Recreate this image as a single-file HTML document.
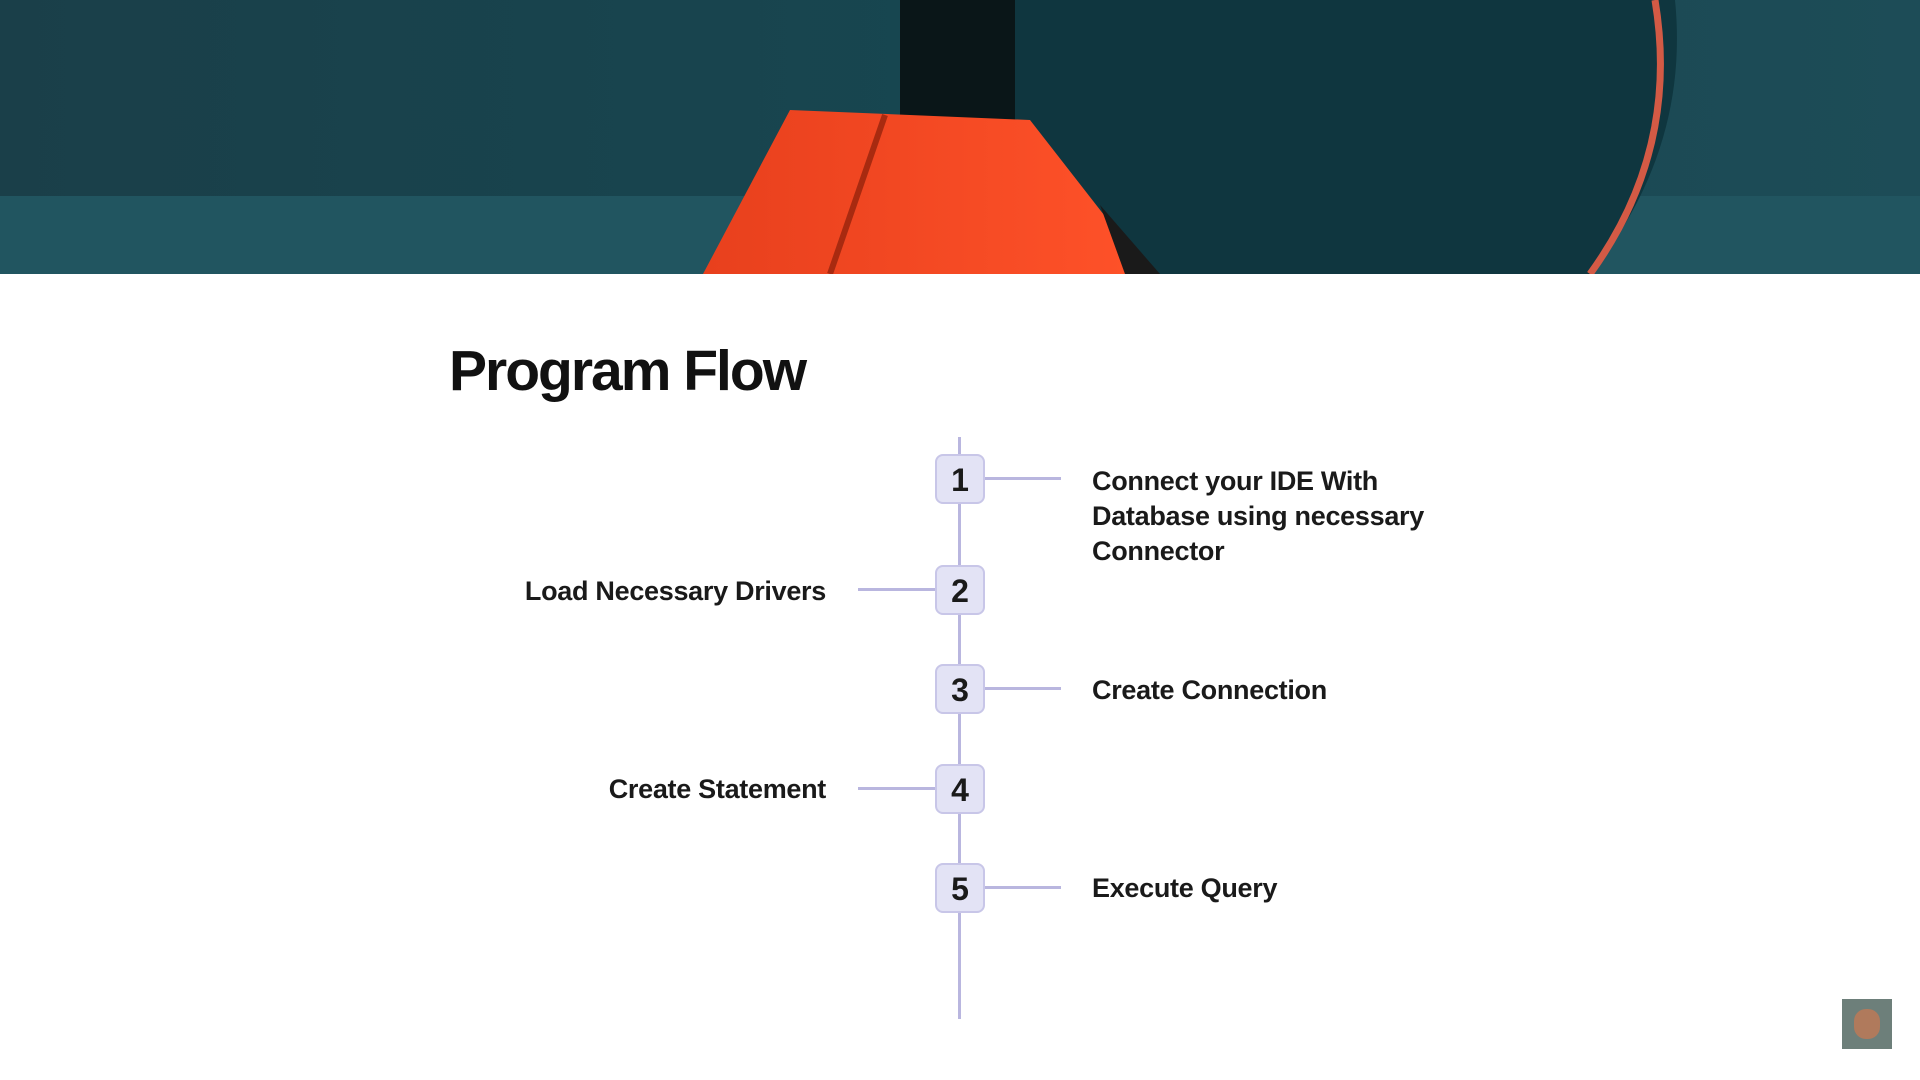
<!DOCTYPE html>
<html><head><style>
body{margin:0;width:1920px;height:1080px;background:#fff;position:relative;overflow:hidden;font-family:"Liberation Sans",sans-serif;}
.hdr{position:absolute;left:0;top:0;width:1920px;height:274px;}
.t{position:absolute;font-weight:bold;color:#1a1a1a;font-size:27px;line-height:35px;letter-spacing:-0.3px;}
.box{position:absolute;left:935px;width:50px;height:50px;background:#e3e3f5;border:2px solid #c8c6e8;box-sizing:border-box;border-radius:8px;text-align:center;line-height:48px;font-weight:bold;font-size:32px;color:#1a1a1a;}
.h{position:absolute;height:3px;background:#b9b6df;}
</style></head><body>
<svg class="hdr" width="1920" height="274" viewBox="0 0 1920 274">
<defs>
<linearGradient id="bg" x1="0" y1="0" x2="1" y2="0"><stop offset="0" stop-color="#1a3f49"/><stop offset="0.5" stop-color="#174650"/><stop offset="1" stop-color="#1d4c57"/></linearGradient>
<linearGradient id="red" x1="0" y1="0" x2="1" y2="0"><stop offset="0" stop-color="#e8401d"/><stop offset="1" stop-color="#ff5229"/></linearGradient>
</defs>
<rect width="1920" height="274" fill="url(#bg)"/>
<rect y="196" width="1920" height="78" fill="#215560"/>
<path d="M900,0 L1675,0 Q1690,150 1590,274 L900,274 Z" fill="#0f363f"/>
<path d="M1655,0 Q1680,150 1590,274" stroke="#d35a45" stroke-width="7" fill="none"/>
<path d="M900,0 L1015,0 L1015,120 L900,120 Z" fill="#0a1618"/>
<polygon points="790,110 1030,120 1150,274 703,274" fill="url(#red)"/>
<polygon points="1100,205 1160,274 1125,274" fill="#1a1a1a"/>
<line x1="885" y1="115" x2="830" y2="274" stroke="#a82a10" stroke-width="6"/>
</svg>
<div style="position:absolute;left:449px;top:338px;font-size:57px;font-weight:bold;color:#111;letter-spacing:-2px;">Program Flow</div>
<div style="position:absolute;left:958px;top:437px;width:3px;height:582px;background:#b9b6df;"></div>
<div class="h" style="left:985px;width:76px;top:477px"></div>
<div class="h" style="left:858px;width:77px;top:588px"></div>
<div class="h" style="left:985px;width:76px;top:687px"></div>
<div class="h" style="left:858px;width:77px;top:787px"></div>
<div class="h" style="left:985px;width:76px;top:886px"></div>
<div class="box" style="top:454px">1</div>
<div class="box" style="top:565px">2</div>
<div class="box" style="top:664px">3</div>
<div class="box" style="top:764px">4</div>
<div class="box" style="top:863px">5</div>
<div class="t" style="left:1092px;top:464px">Connect your IDE With<br>Database using necessary<br>Connector</div>
<div class="t" style="right:1094px;top:574px;text-align:right">Load Necessary Drivers</div>
<div class="t" style="left:1092px;top:673px">Create Connection</div>
<div class="t" style="right:1094px;top:772px;text-align:right">Create Statement</div>
<div class="t" style="left:1092px;top:871px">Execute Query</div>
<div style="position:absolute;left:1842px;top:999px;width:50px;height:50px;background:#6d7f7a;"><div style="margin:10px 12px;width:26px;height:30px;border-radius:12px;background:#b07a5c"></div></div>
</body></html>
